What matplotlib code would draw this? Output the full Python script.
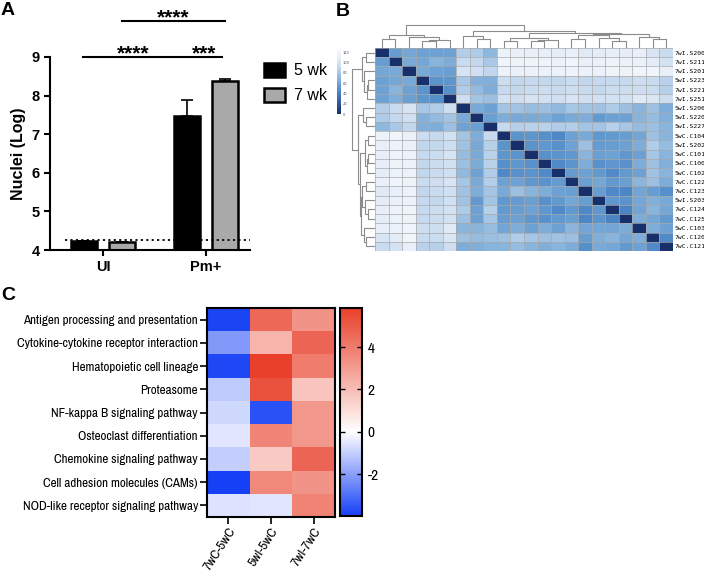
import matplotlib
matplotlib.use('Agg')
import matplotlib.pyplot as plt
import numpy as np
from matplotlib.colors import LinearSegmentedColormap, Normalize

W, H = 704, 574
plt.rcParams['axes.unicode_minus'] = False
fig = plt.figure(figsize=(W / 100, H / 100), dpi=100)

SANS = 'Liberation Sans'
NARROW = ['Archivo Narrow', 'Liberation Sans Narrow', 'Liberation Sans']


def px_axes(x0, y0, x1, y1):
    return fig.add_axes([x0 / W, 1 - y1 / H, (x1 - x0) / W, (y1 - y0) / H])


# ---------------- data ----------------
# panel A
groups = ['UI', 'Pm+']
ages = ['5 wk', '7 wk']
nuclei_5wk = [4.23, 7.47]
nuclei_7wk = [4.22, 8.38]
err_5wk = [0.0, 0.42]
err_7wk = [0.0, 0.05]
detect_limit = 4.25
# (group, age) pairs compared, stars
comparisons = [((0, 0), (1, 0), '****'), ((1, 0), (1, 1), '***'), ((0, 1), (1, 1), '****')]

# panel B: sample distance matrix (lower triangle, clustered order)
samples = ['7wI.S200', '7wI.S211', '7wI.S201', '5wI.S223', '7wI.S221', '7wI.S251',
           '5wI.S206', '5wI.S220', '5wI.S227', '5wC.C104', '5wI.S202', '5wC.C101',
           '5wC.C100', '5wC.C102', '7wC.C122', '7wC.C123', '5wI.S203', '7wC.C124',
           '7wC.C125', '5wC.C103', '7wC.C120', '7wC.C121']
dist_lower = [
    [],
    [55],
    [60, 62],
    [57, 60, 62],
    [58, 68, 58, 50],
    [58, 64, 56, 51, 48],
    [84, 92, 100, 80, 83, 95],
    [82, 90, 96, 66, 72, 78, 62],
    [70, 80, 89, 65, 64, 75, 58, 56],
    [113, 117, 113, 94, 91, 98, 78, 64, 91],
    [110, 115, 112, 89, 90, 95, 77, 61, 85, 50],
    [110, 116, 113, 91, 93, 99, 73, 62, 86, 51, 50],
    [109, 115, 113, 90, 94, 97, 75, 63, 86, 48, 52, 49],
    [108, 113, 113, 89, 92, 96, 71, 58, 83, 44, 49, 50, 45],
    [111, 117, 115, 93, 95, 100, 79, 62, 84, 57, 58, 52, 50, 54],
    [105, 111, 113, 89, 92, 96, 77, 64, 78, 62, 75, 68, 64, 57, 56],
    [107, 112, 113, 91, 90, 97, 77, 53, 78, 52, 54, 56, 49, 53, 60, 55],
    [109, 115, 116, 91, 94, 98, 82, 57, 85, 53, 55, 58, 52, 45, 53, 44, 52],
    [108, 113, 115, 91, 94, 98, 75, 57, 79, 55, 57, 52, 49, 53, 56, 43, 50, 42],
    [110, 113, 117, 95, 95, 105, 68, 68, 73, 59, 64, 57, 64, 57, 69, 59, 60, 59, 63],
    [101, 107, 117, 92, 93, 102, 76, 73, 75, 76, 83, 79, 76, 77, 75, 55, 65, 68, 60, 64],
    [92, 98, 110, 86, 85, 95, 64, 65, 68, 68, 73, 68, 65, 68, 64, 48, 62, 60, 53, 58, 45],
]
# dendrogram: (left, right, height)
tree = (
    (((0, 1, 0.39), (2, ((3, 4, 0.30), 5, 0.35), 0.48), 0.55)),
    ((6, (7, 8, 0.40), 0.50),
     ((((9, 10, 0.30), ((11, 12, 0.28), 13, 0.35), 0.43)),
      (((14, 15, 0.40), (16, (17, 18, 0.30), 0.45), 0.57), (19, (20, 21, 0.38), 0.47), 0.62),
      0.66),
     0.72),
    1.0)

# panel C
pathways = ['Antigen processing and presentation', 'Cytokine-cytokine receptor interaction',
            'Hematopoietic cell lineage', 'Proteasome', 'NF-kappa B signaling pathway',
            'Osteoclast differentiation', 'Chemokine signaling pathway',
            'Cell adhesion molecules (CAMs)', 'NOD-like receptor signaling pathway']
contrasts = ['7wC-5wC', '5wI-5wC', '7wI-7wC']
fc_7wC_5wC = [-3.9, -2.1, -3.8, -1.1, -0.8, -0.5, -1.0, -3.98, -0.6]
fc_5wI_5wC = [4.6, 2.3, 5.85, 5.3, -3.6, 3.7, 1.6, 3.6, -0.5]
fc_7wI_7wC = [3.3, 4.7, 4.0, 1.8, 3.2, 3.2, 4.7, 3.3, 3.8]

# ---------------- panel A ----------------
axA = px_axes(50, 57, 250, 250)
off, bw = 0.185, 0.245
gx = np.arange(len(groups))
kw = dict(edgecolor='black', linewidth=1.8, zorder=2)
axA.bar(gx - off, nuclei_5wk, bw, color='black', label=ages[0], **kw)
axA.bar(gx + off, nuclei_7wk, bw, color='#a9a9a9', label=ages[1], **kw)
for xs, m, e in [(gx - off, nuclei_5wk, err_5wk), (gx + off, nuclei_7wk, err_7wk)]:
    axA.errorbar(xs, m, yerr=[np.zeros(len(e)), e], fmt='none', ecolor='black',
                 elinewidth=1.2, capsize=4.5, capthick=1.2, zorder=3)
axA.plot([-0.37, 1.427], [detect_limit] * 2, color='black', lw=1.3,
         linestyle=(0, (1.2, 1.8)), zorder=4)
axA.set_xlim(-0.515, 1.427)
axA.set_ylim(4, 9)
axA.set_yticks(range(4, 10))
axA.set_xticks(gx)
axA.set_xticklabels(groups)
for s in ['top', 'right']:
    axA.spines[s].set_visible(False)
for s in ['left', 'bottom']:
    axA.spines[s].set_linewidth(1.5)
axA.tick_params(length=4, width=1.5, labelsize=10.5)
for t in axA.get_xticklabels() + axA.get_yticklabels():
    t.set_fontweight('bold')
    t.set_family(SANS)
axA.set_ylabel('Nuclei (Log)', fontsize=11.5, fontweight='bold', family=SANS, labelpad=4)

centers = {(g, a): g + (-off if a == 0 else off) for g in range(2) for a in range(2)}
levels = [9.0, 9.0, 9.93]
for (p, q, star), lv in zip(comparisons, levels):
    x1, x2 = centers[p], centers[q]
    if lv < 9.5:
        x1, x2 = x1 - 0.01, x2 - 0.03
    axA.plot([x1, x2], [lv, lv], color='black', lw=1.5, clip_on=False)
    axA.text((x1 + x2) / 2, lv - 0.06, star, ha='center', va='baseline', fontsize=15,
             fontweight='bold', family=SANS)

axA.legend(loc='upper left', bbox_to_anchor=(256 / W, 1 - 55 / H), bbox_transform=fig.transFigure,
           frameon=False, borderpad=0, handlelength=1.3, handleheight=0.95,
           labelspacing=0.6, handletextpad=0.55, prop={'family': SANS, 'size': 11.5})

# ---------------- panel B ----------------
n = len(samples)
D = np.zeros((n, n))
for i, row in enumerate(dist_lower):
    D[i, :i] = row
D = D + D.T

vtop = 128
anchors = [(0, '#172f6a'), (42, '#4a84c5'), (50, '#5a93cc'), (64, '#7eadd9'),
           (77, '#a0c2e3'), (91, '#c6d9ee'), (109, '#e6eef8'), (120, '#f3f7fc'), (vtop, '#f9fbfe')]
cmapB = LinearSegmentedColormap.from_list('dist', [(v / vtop, c) for v, c in anchors])

axB = px_axes(375, 48, 673, 251)
mesh = axB.pcolormesh(D, cmap=cmapB, vmin=0, vmax=vtop)
for k in range(n + 1):
    axB.axhline(k, color='#a9a9a9', lw=0.5)
    axB.axvline(k, color='#a9a9a9', lw=0.5)
axB.set_xlim(0, n)
axB.set_ylim(n, 0)
axB.set_xticks([])
axB.yaxis.tick_right()
axB.set_yticks(np.arange(n) + 0.5)
axB.set_yticklabels(samples, family='DejaVu Sans Mono', fontsize=4.6)
axB.tick_params(axis='y', length=0, pad=1)
for s in axB.spines.values():
    s.set_visible(False)


def draw_tree(ax, node, top):
    if isinstance(node, int):
        return node + 0.5, 0.0
    l, r, h = node
    xl, hl = draw_tree(ax, l, top)
    xr, hr = draw_tree(ax, r, top)
    xs, ys = [xl, xl, xr, xr], [hl, h, h, hr]
    if top:
        ax.plot(xs, ys, color='#8c8c8c', lw=0.8)
    else:
        ax.plot(ys, xs, color='#8c8c8c', lw=0.8)
    return (xl + xr) / 2, h


axT = px_axes(375, 24, 673, 48)
draw_tree(axT, tree, True)
axT.set_xlim(0, n)
axT.set_ylim(0, 1.03)
axT.axis('off')

axL = px_axes(351, 48, 375, 251)
draw_tree(axL, tree, False)
axL.set_ylim(n, 0)
axL.set_xlim(1.03, 0)
axL.axis('off')

caxB = px_axes(337, 48, 341, 114)
cb = fig.colorbar(mesh, cax=caxB, ticks=range(0, 121, 20))
cb.outline.set_visible(False)
caxB.tick_params(length=0, labelsize=2.6, pad=1.5, colors='#555555')

# ---------------- panel C ----------------
FC = np.column_stack([fc_7wC_5wC, fc_5wI_5wC, fc_7wI_7wC])
vmin, vmax = FC.min(), FC.max()
mid = (0 - vmin) / (vmax - vmin)
cmapC = LinearSegmentedColormap.from_list('div', [(0, '#1640f5'), (mid, '#ffffff'), (1, '#e8402a')])

axC = px_axes(207, 308, 335, 517)
meshC = axC.pcolormesh(FC, cmap=cmapC, norm=Normalize(vmin, vmax))
axC.set_ylim(len(pathways), 0)
axC.set_yticks(np.arange(len(pathways)) + 0.5)
axC.set_yticklabels(pathways, family=NARROW, fontsize=9.4)
axC.set_xticks(np.arange(len(contrasts)) + 0.5)
axC.set_xticklabels(contrasts, family=NARROW, fontsize=9.8, rotation=57, ha='right',
                    rotation_mode='anchor')
axC.tick_params(length=5, width=1.2, pad=1.5)
axC.tick_params(axis='x', pad=1)
for s in axC.spines.values():
    s.set_linewidth(1.5)

caxC = px_axes(340, 308, 362, 516)
cbC = fig.colorbar(meshC, cax=caxC, ticks=[-2, 0, 2, 4])
cbC.outline.set_linewidth(1.5)
caxC.tick_params(direction='in', length=3.5, width=1.0, left=True, right=True, labelsize=11, pad=4)
for t in caxC.get_yticklabels():
    t.set_family(NARROW)

# ---------------- panel letters ----------------
for lab, x, y in [('A', 1, 2), ('B', 336, 3), ('C', 1, 287)]:
    fig.text(x / W, 1 - y / H, lab, ha='left', va='top', fontsize=14, fontweight='bold', family=SANS)

fig.savefig('out.png', dpi=100, facecolor='white')
